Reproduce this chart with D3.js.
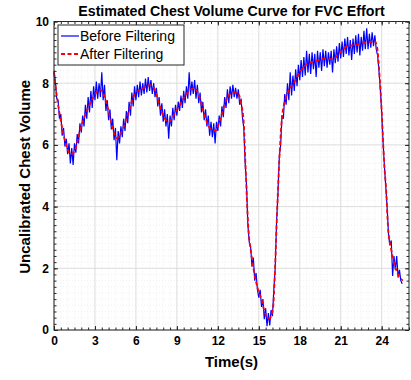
<!DOCTYPE html>
<html><head><meta charset="utf-8">
<script src="https://cdn.jsdelivr.net/npm/d3@7"></script>
<style>body{margin:0;background:#fff}svg{display:block}</style>
</head><body>
<svg id="c" width="411" height="380"></svg>
<script>
const titleText = "Estimated Chest Volume Curve for FVC Effort";
const xLabel = "Time(s)";
const yLabel = "Uncalibrated Chest Volume";
const xTicks = [0,3,6,9,12,15,18,21,24];
const yTicks = [0,2,4,6,8,10];
const legendLabels = ["Before Filtering","After Filtering"];

// Raw (before filtering) samples every 0.1 s starting at t = 0
const rawStep = 0.1;
const rawValues = [
 8.40,8.05,7.50,7.45,6.85,7.00,6.30,6.55,5.95,6.20,
 5.70,6.05,5.40,5.90,5.35,6.05,5.75,6.35,6.05,6.70,
 6.40,6.95,6.60,7.30,6.85,7.55,7.05,7.75,7.20,7.90,
 7.45,8.05,7.50,8.00,7.55,8.35,7.45,7.95,7.10,7.45,
 6.80,7.15,6.50,6.85,6.15,6.55,5.50,6.45,6.05,6.60,
 6.25,6.85,6.45,7.10,6.70,7.40,6.95,7.70,7.25,7.90,
 7.45,7.95,7.55,8.05,7.60,8.00,7.65,8.15,7.70,8.20,
 7.75,8.10,7.65,8.00,7.55,7.85,7.25,7.55,6.95,7.35,
 6.75,7.15,6.60,7.00,6.20,6.95,6.60,7.20,6.80,7.30,
 6.95,7.40,7.10,7.60,7.20,7.75,7.35,7.90,7.50,8.35,
 7.60,8.05,7.65,8.10,7.50,7.95,7.35,7.70,7.05,7.40,
 6.80,7.15,6.60,6.95,6.30,6.75,6.25,6.70,6.05,6.75,
 6.45,6.95,6.60,7.25,6.90,7.55,7.20,7.80,7.35,7.90,
 7.50,7.95,7.55,7.85,7.50,7.80,7.30,7.50,6.90,6.55,
 5.40,4.70,3.40,2.85,2.70,2.05,2.35,1.60,1.85,1.30,
 1.05,1.30,0.75,1.00,0.35,0.70,0.12,0.55,0.15,0.65,
 0.45,1.30,2.00,3.50,4.40,5.60,6.00,6.95,6.85,7.65,
 7.30,8.00,7.45,8.35,7.60,8.25,7.75,8.45,7.90,8.60,
 8.10,8.75,8.20,8.85,8.25,9.05,8.35,8.95,8.30,9.00,
 8.45,8.95,8.20,9.05,8.50,9.00,8.40,9.10,8.55,9.05,
 8.50,9.00,8.60,9.05,8.35,9.10,8.65,9.20,8.70,9.30,
 8.80,9.35,8.85,9.45,8.95,9.50,8.90,9.40,8.75,9.45,
 8.95,9.55,9.00,9.60,8.90,9.50,9.05,9.70,9.10,9.78,
 9.10,9.60,9.15,9.65,9.20,9.55,9.10,8.90,8.40,7.80,
 7.05,6.10,5.30,4.65,3.95,3.10,2.75,2.90,1.75,2.40,
 1.95,2.40,1.70,1.95,1.60,1.50
];

// Filtered curve key points
const filtT = [0,0.2,0.45,0.8,1.0,1.25,1.55,1.9,2.4,2.9,3.35,3.75,4.1,4.35,4.6,4.95,5.45,5.95,6.5,7.05,7.4,7.75,8.1,8.4,8.85,9.35,9.85,10.3,10.65,11.05,11.4,11.8,12.15,12.6,13.1,13.45,13.7,13.9,14.02,14.22,14.47,14.83,15.2,15.55,15.8,16.05,16.17,16.3,16.5,16.7,17.0,17.6,18.1,18.6,19.2,19.8,20.4,20.9,21.4,22.0,22.6,23.2,23.45,23.65,23.85,24.0,24.17,24.34,24.46,24.7,25.07,25.55];
const filtV = [8.35,7.6,6.9,6.15,5.85,5.7,5.85,6.45,7.1,7.55,7.8,7.5,6.9,6.45,6.22,6.42,7.05,7.68,7.82,7.94,7.78,7.25,6.86,6.74,7.02,7.4,7.73,7.84,7.56,6.92,6.55,6.45,6.8,7.45,7.7,7.68,7.35,6.7,5.4,3.4,2.4,1.5,0.97,0.45,0.38,0.75,1.75,3.35,5.5,6.9,7.55,8.03,8.42,8.64,8.72,8.8,8.78,8.97,9.18,9.24,9.29,9.34,9.38,9.2,8.2,7.1,5.5,4.43,3.35,2.6,1.94,1.6];

const svg = d3.select("#c");
const m = {l:54, r:409, t:21.5, b:330};
const x = d3.scaleLinear().domain([0,26]).range([m.l, m.r]);
const y = d3.scaleLinear().domain([0,10]).range([m.b, m.t]);
const axisCol = "#262626";
const font = "'Liberation Sans', Arial, Helvetica, sans-serif";

// minor grid
const xMinor = d3.range(0, 26.001, 0.5);
const yMinor = d3.range(0, 10.001, 0.2);
const g = svg.append("g");
g.selectAll(".mx").data(xMinor.filter(v => v % 3 !== 0)).enter().append("line")
 .attr("x1", d=>x(d)).attr("x2", d=>x(d)).attr("y1", m.t).attr("y2", m.b)
 .attr("stroke", "#e6e6e6").attr("stroke-width", 0.6).attr("stroke-dasharray", "1,2");
g.selectAll(".my").data(yMinor.filter(v => Math.abs(v/2 - Math.round(v/2)) > 1e-6)).enter().append("line")
 .attr("y1", d=>y(d)).attr("y2", d=>y(d)).attr("x1", m.l).attr("x2", m.r)
 .attr("stroke", "#e6e6e6").attr("stroke-width", 0.6).attr("stroke-dasharray", "1,2");
// major grid
g.selectAll(".gx").data(xTicks).enter().append("line")
 .attr("x1", d=>x(d)).attr("x2", d=>x(d)).attr("y1", m.t).attr("y2", m.b)
 .attr("stroke", "#dcdcdc").attr("stroke-width", 1);
g.selectAll(".gy").data(yTicks).enter().append("line")
 .attr("y1", d=>y(d)).attr("y2", d=>y(d)).attr("x1", m.l).attr("x2", m.r)
 .attr("stroke", "#dcdcdc").attr("stroke-width", 1);

// data
const raw = rawValues.map((v,i) => [i*rawStep, v]);
const filt = filtT.map((t,i) => [t, filtV[i]]);
svg.append("path").datum(raw)
 .attr("d", d3.line().x(d=>x(d[0])).y(d=>y(d[1])))
 .attr("fill","none").attr("stroke","#0000ff").attr("stroke-width",1.2);
svg.append("path").datum(filt)
 .attr("d", d3.line().x(d=>x(d[0])).y(d=>y(d[1])).curve(d3.curveMonotoneX))
 .attr("fill","none").attr("stroke","#ff0000").attr("stroke-width",1.8)
 .attr("stroke-dasharray","4,2.5");

// axes (ticks inside)
const tl = 4;
const bottom = d3.axisBottom(x).tickValues(xTicks).tickSize(-tl).tickPadding(6).tickFormat(d3.format("d"));
const bottomMinor = d3.axisBottom(x).tickValues(xMinor).tickSize(-2.5).tickFormat("");
const left = d3.axisLeft(y).tickValues(yTicks).tickSize(-tl).tickPadding(5).tickFormat(d3.format("d"));
const leftMinor = d3.axisLeft(y).tickValues(yMinor).tickSize(-2.5).tickFormat("");
const topMinor = d3.axisTop(x).tickValues(xMinor).tickSize(-2.5).tickFormat("");
const topMajor = d3.axisTop(x).tickValues(xTicks).tickSize(-tl).tickFormat("");
const rightMinor = d3.axisRight(y).tickValues(yMinor).tickSize(-2.5).tickFormat("");
const rightMajor = d3.axisRight(y).tickValues(yTicks).tickSize(-tl).tickFormat("");

function styleAxis(sel){
  sel.select(".domain").remove();
  sel.selectAll("line").attr("stroke", axisCol).attr("stroke-width", 1);
  sel.selectAll("text").attr("fill","#000").style("font-family", font)
     .style("font-size","12px").style("font-weight","bold");
}
svg.append("g").attr("transform",`translate(0,${m.b})`).call(bottomMinor).call(styleAxis);
svg.append("g").attr("transform",`translate(0,${m.b})`).call(bottom).call(styleAxis);
svg.append("g").attr("transform",`translate(${m.l},0)`).call(leftMinor).call(styleAxis);
svg.append("g").attr("transform",`translate(${m.l},0)`).call(left).call(styleAxis);
svg.append("g").attr("transform",`translate(0,${m.t})`).call(topMinor).call(styleAxis);
svg.append("g").attr("transform",`translate(0,${m.t})`).call(topMajor).call(styleAxis);
svg.append("g").attr("transform",`translate(${m.r},0)`).call(rightMinor).call(styleAxis);
svg.append("g").attr("transform",`translate(${m.r},0)`).call(rightMajor).call(styleAxis);

// box
svg.append("rect").attr("x",m.l).attr("y",m.t).attr("width",m.r-m.l).attr("height",m.b-m.t)
 .attr("fill","none").attr("stroke",axisCol).attr("stroke-width",1);

// title and labels
svg.append("text").attr("x",(m.l+m.r)/2).attr("y",16).attr("text-anchor","middle")
 .style("font-family",font).style("font-size","14.2px").style("font-weight","bold").text(titleText);
svg.append("text").attr("x",(m.l+m.r)/2).attr("y",367).attr("text-anchor","middle")
 .style("font-family",font).style("font-size","15px").style("font-weight","bold").text(xLabel);
svg.append("text").attr("transform",`translate(30,${(m.t+m.b)/2+1}) rotate(-90)`).attr("text-anchor","middle")
 .style("font-family",font).style("font-size","15px").style("font-weight","bold").text(yLabel);

// legend
const lg = svg.append("g");
lg.append("rect").attr("x",58).attr("y",25).attr("width",126).attr("height",40)
 .attr("fill","#fff").attr("stroke",axisCol).attr("stroke-width",1);
const colors = ["#0000ff","#ff0000"];
legendLabels.forEach((lab,i)=>{
  const yy = 36 + i*18;
  lg.append("line").attr("x1",61).attr("x2",79).attr("y1",yy).attr("y2",yy)
    .attr("stroke",colors[i]).attr("stroke-width", i? 1.8 : 1.2)
    .attr("stroke-dasharray", i? "4,2.5" : null);
  lg.append("text").attr("x",80).attr("y",yy+5)
    .style("font-family",font).style("font-size","14px").text(lab);
});
</script>
</body></html>
